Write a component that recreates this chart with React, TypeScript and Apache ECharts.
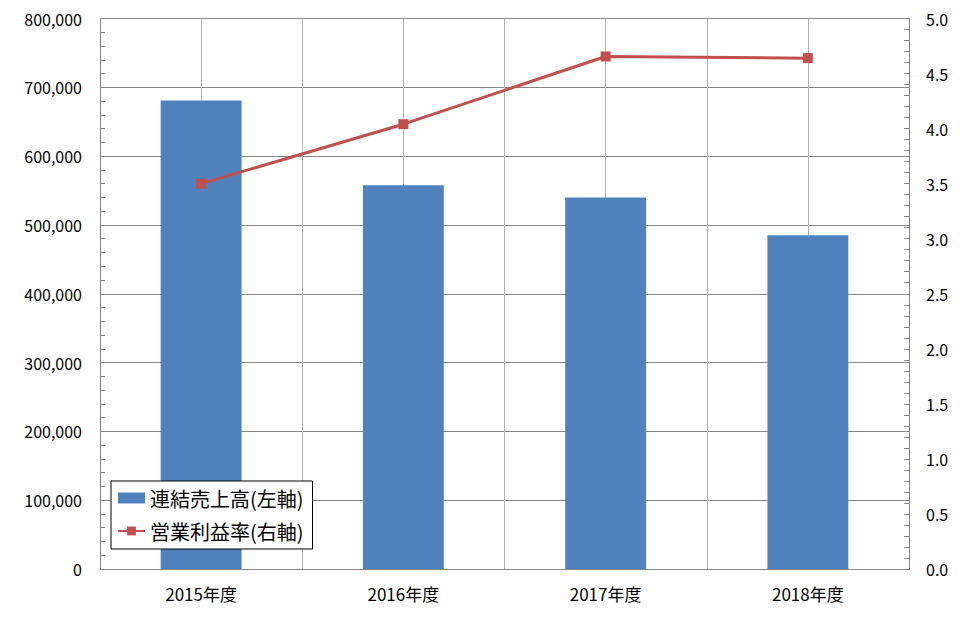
import React, { useEffect, useRef } from "react";
import * as echarts from "echarts";

const categories = ["2015年度", "2016年度", "2017年度", "2018年度"];
const salesValues = [681000, 557500, 540000, 485000];
const marginValues = [3.5, 4.04, 4.655, 4.64];
const salesName = "連結売上高(左軸)";
const marginName = "営業利益率(右軸)";

const FONT = "'Noto Sans CJK JP', 'Noto Sans', sans-serif";

export default function App() {
  const ref = useRef<HTMLDivElement>(null);
  useEffect(() => {
    if (!ref.current) return;
    const chart = echarts.init(ref.current, null, { renderer: "svg" });
    chart.setOption({
      animation: false,
      backgroundColor: "#ffffff",
      textStyle: { fontFamily: FONT },
      grid: { left: 100, right: 66, top: 18.5, bottom: 68, containLabel: false },
      legend: {
        orient: "vertical",
        left: 111,
        top: 481,
        backgroundColor: "#ffffff",
        borderColor: "#000000",
        borderWidth: 1,
        borderRadius: 0,
        padding: [7, 9, 8, 6],
        itemGap: 13,
        itemWidth: 27,
        itemHeight: 11,
        textStyle: { fontSize: 20, color: "#000", fontFamily: FONT },
        data: [
          { name: salesName, icon: "rect" },
          { name: marginName },
        ],
      },
      xAxis: [
        {
          type: "category",
          data: categories,
          boundaryGap: true,
          axisLine: { lineStyle: { color: "#868686", width: 1 } },
          axisTick: { show: true, inside: true, alignWithLabel: true, length: 5, lineStyle: { color: "#868686" } },
          axisLabel: { fontSize: 17, color: "#000", margin: 16, fontFamily: FONT },
          splitLine: { show: false },
        },
        {
          type: "value",
          min: 0,
          max: 8,
          interval: 1,
          position: "bottom",
          axisLine: { show: false },
          axisTick: { show: false },
          axisLabel: { show: false },
          splitLine: { show: true, lineStyle: { color: "#b3b3b3", width: 1 } },
        },
      ],
      yAxis: [
        {
          type: "value",
          min: 0,
          max: 800000,
          interval: 100000,
          axisLine: { show: true, lineStyle: { color: "#868686" } },
          axisTick: { show: true, inside: true, length: 5, lineStyle: { color: "#868686" } },
          minorTick: { show: true, splitNumber: 5, length: 5, lineStyle: { color: "#868686" } },
          axisLabel: {
            fontSize: 16,
            color: "#000",
            margin: 18,
            fontFamily: FONT,
            formatter: (v: number) => v.toLocaleString("en-US"),
          },
          splitLine: { show: true, lineStyle: { color: "#868686", width: 1 } },
        },
        {
          type: "value",
          min: 0,
          max: 5,
          interval: 0.5,
          position: "right",
          axisLine: { show: true, lineStyle: { color: "#868686" } },
          axisTick: { show: true, inside: true, length: 5, lineStyle: { color: "#868686" } },
          minorTick: { show: true, splitNumber: 5, length: 5, lineStyle: { color: "#868686" } },
          axisLabel: {
            fontSize: 16,
            color: "#000",
            margin: 17,
            fontFamily: FONT,
            formatter: (v: number) => v.toFixed(1),
          },
          splitLine: { show: false },
        },
      ],
      series: [
        {
          name: salesName,
          type: "bar",
          xAxisIndex: 0,
          yAxisIndex: 0,
          data: salesValues,
          barWidth: "40%",
          itemStyle: { color: "#4F81BD" },
          z: 2,
        },
        {
          name: marginName,
          type: "line",
          xAxisIndex: 0,
          yAxisIndex: 1,
          data: marginValues,
          symbol: "rect",
          symbolSize: 10,
          lineStyle: { color: "#C0504D", width: 3 },
          itemStyle: { color: "#C0504D" },
          z: 3,
        },
      ],
    });
    return () => chart.dispose();
  }, []);
  return <div ref={ref} style={{ width: 975, height: 637, position: "absolute", left: 0, top: 0 }} />;
}
